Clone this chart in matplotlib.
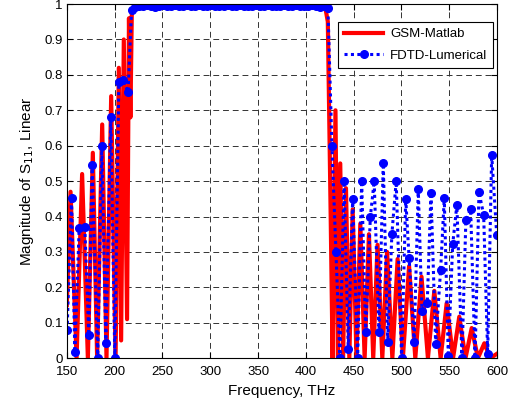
import matplotlib
matplotlib.use('Agg')
import matplotlib.pyplot as plt

plt.rcParams['font.family'] = ['Liberation Sans', 'DejaVu Sans']

# GSM (Matlab) reflection magnitude, peak/valley vertices
gsm_f = [150, 153.9, 160.2, 166, 172, 177.2, 181.7, 187, 191.5, 196.4, 201,
         204.4, 206.8, 209.6, 213, 215, 216.5, 218, 222, 260, 300, 340, 380, 420,
         423, 426, 428, 431, 433.5, 436, 439, 442, 445.5, 449, 453, 457, 461.5,
         466, 470.5, 475, 480, 485, 490.5, 496, 501.5, 508, 514.5, 521, 527.7,
         534.4, 541, 547.3, 554, 560.5, 567, 573.5, 580, 586.7, 593, 599.7]
gsm_s11 = [0.15, 0.47, 0.0, 0.52, 0.0, 0.58, 0.0, 0.66, 0.0, 0.74, 0.0,
           0.82, 0.05, 0.9, 0.11, 0.96, 0.68, 0.98, 0.997, 0.998, 0.997, 0.998, 0.997, 0.996,
           0.95, 0.4, 0.0, 0.7, 0.0, 0.55, 0.0, 0.48, 0.0, 0.42, 0.0, 0.38, 0.0,
           0.35, 0.0, 0.32, 0.0, 0.3, 0.0, 0.28, 0.0, 0.26, 0.0, 0.23, 0.0,
           0.19, 0.0, 0.155, 0.0, 0.117, 0.0, 0.085, 0.0, 0.042, 0.0, 0.012]

# FDTD (Lumerical) sampled points
fdtd_f = [150.3, 154.9, 158.4, 162.9, 168.8, 173, 176.5, 182.3, 186.6, 190.8,
          196, 200.2, 204.4, 208.9, 214.1, 217.7, 221.5,
          225.7, 229.9, 234.1, 238.3, 242.5, 246.7, 250.9, 255.1, 259.3, 263.5,
          267.7, 271.9, 276.1, 280.3, 284.5, 288.7, 292.9, 297.1, 301.3, 305.5,
          309.7, 313.9, 318.1, 322.3, 326.5, 330.7, 334.9, 339.1, 343.3, 347.5,
          351.7, 355.9, 360.1, 364.3, 368.5, 372.7, 376.9, 381.1, 385.3, 389.5,
          393.7, 397.9, 402.1, 406.3, 410.5, 414.7, 418.9, 423.1,
          427.3, 431.5, 435.7, 440, 444.4, 449, 454.2, 458.4, 462.6, 467.5,
          471.5, 476.5, 481, 485.6, 490, 494.5, 500.2, 504.5, 508, 513.3,
          517.6, 521.5, 527, 530.9, 535.8, 541, 544.8, 549, 553.6, 558,
          563.3, 567.4, 572.4, 577, 581.1, 586, 590.2, 594.4, 599.7]
fdtd_s11 = [0.079, 0.453, 0.017, 0.367, 0.37, 0.065, 0.545, 0.0, 0.6, 0.042,
            0.68, 0.0, 0.78, 0.785, 0.752, 0.983, 0.993,
            0.995, 0.994, 0.996, 0.995, 0.993, 0.995, 0.996, 0.994, 0.995, 0.996,
            0.994, 0.995, 0.996, 0.994, 0.995, 0.996, 0.995, 0.994, 0.996, 0.995,
            0.994, 0.995, 0.996, 0.994, 0.995, 0.996, 0.995, 0.994, 0.995, 0.996,
            0.994, 0.995, 0.996, 0.995, 0.994, 0.995, 0.996, 0.994, 0.995, 0.996,
            0.995, 0.994, 0.995, 0.996, 0.994, 0.993, 0.995, 0.99,
            0.6, 0.3, 0.0, 0.5, 0.027, 0.45, 0.0, 0.5, 0.074, 0.4,
            0.5, 0.074, 0.55, 0.046, 0.35, 0.5, 0.0, 0.45, 0.284, 0.046,
            0.477, 0.133, 0.156, 0.467, 0.041, 0.25, 0.452, 0.005, 0.321, 0.433,
            0.0, 0.39, 0.42, 0.0, 0.469, 0.405, 0.013, 0.575, 0.347]

fig = plt.figure(figsize=(5.14, 4.07), dpi=100)
ax = fig.add_axes([0.130, 0.120, 0.837, 0.870])

ax.plot(gsm_f, gsm_s11, color='#ff0000', lw=3.0, solid_joinstyle='round',
        label='GSM-Matlab')
ax.plot(fdtd_f, fdtd_s11, color='#0000ff', lw=2.2, linestyle=(0, (1, 1.1)),
        marker='o', markersize=5.5, label='FDTD-Lumerical')

ax.set_xlim(150, 600)
ax.set_ylim(0, 1)
ax.set_xticks(range(150, 601, 50))
ax.set_yticks([i / 10 for i in range(11)])
ax.set_yticklabels(['0', '0.1', '0.2', '0.3', '0.4', '0.5', '0.6', '0.7', '0.8', '0.9', '1'])
ax.tick_params(direction='in', top=True, right=True, labelsize=9.5, length=4)
ax.tick_params(axis='x', pad=6)
ax.tick_params(axis='y', pad=3)
ax.grid(True, color='#333333', linestyle=(0, (6, 4)), linewidth=0.7)
for s in ax.spines.values():
    s.set_linewidth(0.8)

ax.set_xlabel('Frequency, THz', fontsize=11, labelpad=4)
ax.set_ylabel('Magnitude of S$_{11}$, Linear', fontsize=11, labelpad=6)

leg = ax.legend(loc='upper right', bbox_to_anchor=(0.991, 0.949), borderaxespad=0,
                fontsize=9.5, fancybox=False, framealpha=1, edgecolor='black',
                handlelength=3.0, handletextpad=0.5, borderpad=0.45, labelspacing=0.7)
leg.get_frame().set_linewidth(0.8)

fig.savefig('out.png', dpi=100)
